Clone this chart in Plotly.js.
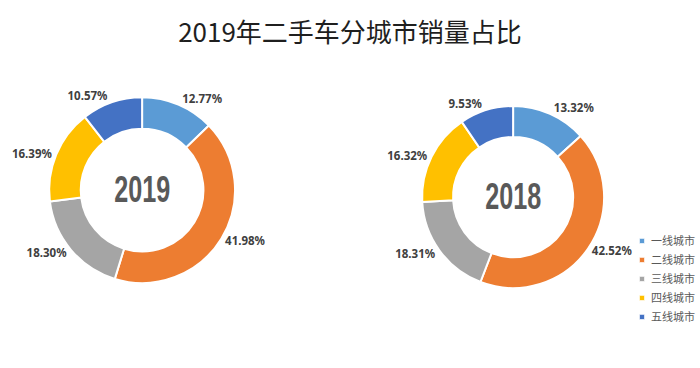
<!DOCTYPE html>
<html>
<head>
<meta charset="utf-8">
<script src="https://cdn.plot.ly/plotly-3.0.1.min.js"></script>
<style>html,body{margin:0;padding:0;background:#fff;}#chart{width:700px;height:368px;}</style>
</head>
<body>
<div id="chart"></div>
<script>
const categories = ["一线城市", "二线城市", "三线城市", "四线城市", "五线城市"];
const values2019 = [12.77, 41.98, 18.30, 16.39, 10.57];
const values2018 = [13.32, 42.52, 18.31, 16.32, 9.53];
const colors = ["#5B9BD5", "#ED7D31", "#A5A5A5", "#FFC000", "#4472C4"];
const years = ["2019", "2018"];

const labelFont = {family: "Noto Sans, sans-serif", size: 11.5, color: "#404040", weight: 700};

function donut(vals, dom, show) {
  return {
    type: "pie",
    labels: categories,
    values: vals,
    sort: false,
    direction: "clockwise",
    rotation: 0,
    hole: 0.66,
    domain: dom,
    marker: {colors: colors, line: {color: "#ffffff", width: 2}},
    texttemplate: "%{value:.2f}%",
    textposition: "outside",
    outsidetextfont: labelFont,
    textfont: labelFont,
    showlegend: show,
    hoverinfo: "label+value"
  };
}

const data = [
  donut(values2019, {x: [0.07, 0.336], y: [0.231, 0.736]}, true),
  donut(values2018, {x: [0.603, 0.863], y: [0.217, 0.712]}, true)
];

const yearFont = {family: "Liberation Sans, sans-serif", size: 37, color: "#595959", weight: 700};

const layout = {
  width: 700, height: 368,
  margin: {l: 0, r: 0, t: 0, b: 0, autoexpand: false},
  paper_bgcolor: "#ffffff",
  title: {
    text: "2019年二手车分城市销量占比",
    font: {family: "Noto Sans CJK SC, sans-serif", size: 26, color: "#1f1f1f"},
    x: 0.5, xanchor: "center", y: 0.91, yanchor: "middle"
  },
  legend: {
    x: 1, xanchor: "right", y: 0.242, yanchor: "middle",
    font: {family: "Noto Sans CJK SC, sans-serif", size: 11, color: "#595959"},
    tracegroupgap: 0, itemwidth: 30, bgcolor: "rgba(0,0,0,0)"
  },
  annotations: [
    {text: years[0], x: 0.203, y: 0.484, xref: "paper", yref: "paper", xanchor: "center", yanchor: "middle",
     showarrow: false, font: yearFont},
    {text: years[1], x: 0.733, y: 0.465, xref: "paper", yref: "paper", xanchor: "center", yanchor: "middle",
     showarrow: false, font: yearFont}
  ]
};

Plotly.newPlot("chart", data, layout, {displayModeBar: false}).then(function (gd) {
  gd.querySelectorAll(".annotation-text").forEach(function (t) {
    t.setAttribute("textLength", "56");
    t.setAttribute("lengthAdjust", "spacingAndGlyphs");
  });
  gd.querySelectorAll(".legend .legendpoints path").forEach(function (p) {
    const prev = p.getAttribute("transform") || "";
    p.setAttribute("transform", prev + " translate(11,0) scale(0.45)");
  });
});
</script>
</body>
</html>
